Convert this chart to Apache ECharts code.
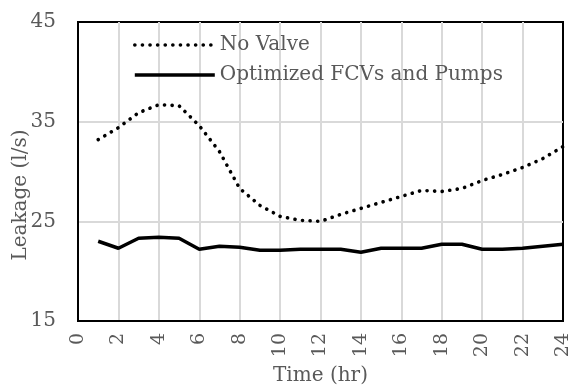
<!DOCTYPE html>
<html>
<head>
<meta charset="utf-8">
<script src="https://cdn.jsdelivr.net/npm/echarts@6/dist/echarts.min.js"></script>
<style>
  html, body { margin: 0; padding: 0; background: #fff; }
  #chart { width: 575px; height: 391px; }
</style>
</head>
<body>
<div id="chart"></div>
<script>
// Hourly leakage over one day
const hours = [1, 2, 3, 4, 5, 6, 7, 8, 9, 10, 11, 12, 13, 14, 15, 16, 17, 18, 19, 20, 21, 22, 23, 24];
const noValve = [33.2, 34.4, 35.9, 36.7, 36.6, 34.6, 32.0, 28.3, 26.6, 25.5, 25.1, 25.0, 25.7, 26.3, 26.9, 27.5, 28.1, 28.0, 28.3, 29.1, 29.7, 30.4, 31.3, 32.5];
const optimized = [23.0, 22.3, 23.3, 23.4, 23.3, 22.2, 22.5, 22.4, 22.1, 22.1, 22.2, 22.2, 22.2, 21.9, 22.3, 22.3, 22.3, 22.7, 22.7, 22.2, 22.2, 22.3, 22.5, 22.7];
const seriesNames = ['No Valve', 'Optimized FCVs and Pumps'];
const xTicks = { min: 0, max: 24, step: 2 };
const yTicks = { min: 15, max: 45, step: 10 };

const pair = (vals) => hours.map((h, i) => [h, vals[i]]);
const font = 'DejaVu Serif';
const grey = '#595959';

const chart = echarts.init(document.getElementById('chart'), null, { renderer: 'canvas' });
chart.setOption({
  animation: false,
  grid: {
    left: 78, right: 12, top: 22, bottom: 66,
    show: true, borderColor: '#000', borderWidth: 2, backgroundColor: 'transparent'
  },
  legend: {
    orient: 'vertical',
    left: 128, top: 30,
    itemWidth: 80, itemHeight: 14, itemGap: 10,
    data: [
      { name: seriesNames[0], lineStyle: { width: 3.6, type: [0.1, 7.5], cap: 'round', color: '#000' } },
      { name: seriesNames[1], lineStyle: { width: 3.5, color: '#000' } }
    ],
    itemStyle: { opacity: 0 },
    textStyle: { fontFamily: font, fontSize: 20, color: grey }
  },
  xAxis: {
    type: 'value',
    min: xTicks.min, max: xTicks.max, interval: xTicks.step,
    name: 'Time (hr)', nameLocation: 'middle', nameGap: 45,
    nameTextStyle: { fontFamily: font, fontSize: 20, color: grey },
    axisLine: { show: true, lineStyle: { color: '#000', width: 2 } },
    axisTick: { show: false },
    axisLabel: { rotate: 90, margin: 12, fontFamily: font, fontSize: 19, color: grey },
    splitLine: { show: true, showMinLine: false, showMaxLine: false, lineStyle: { color: '#d9d9d9', width: 2 } }
  },
  yAxis: {
    type: 'value',
    min: yTicks.min, max: yTicks.max, interval: yTicks.step,
    axisLine: { show: true, lineStyle: { color: '#000', width: 2 } },
    axisTick: { show: false },
    axisLabel: { margin: 22, fontFamily: font, fontSize: 20, color: grey },
    splitLine: { show: true, showMinLine: false, showMaxLine: false, lineStyle: { color: '#d9d9d9', width: 2 } }
  },
  graphic: [{
    type: 'text',
    x: 21, y: 195,
    rotation: Math.PI / 2,
    style: {
      text: 'Leakage (l/s)', fontFamily: font, fontSize: 20, fill: grey,
      align: 'center', verticalAlign: 'middle'
    }
  }],
  series: [
    {
      name: seriesNames[0], type: 'line', data: pair(noValve),
      symbol: 'none', smooth: false,
      lineStyle: { color: '#000', width: 3.6, type: [0.1, 7.5], cap: 'round' },
      itemStyle: { color: '#000' }
    },
    {
      name: seriesNames[1], type: 'line', data: pair(optimized),
      symbol: 'none', smooth: false,
      lineStyle: { color: '#000', width: 3.5 },
      itemStyle: { color: '#000' }
    }
  ]
});
</script>
</body>
</html>
